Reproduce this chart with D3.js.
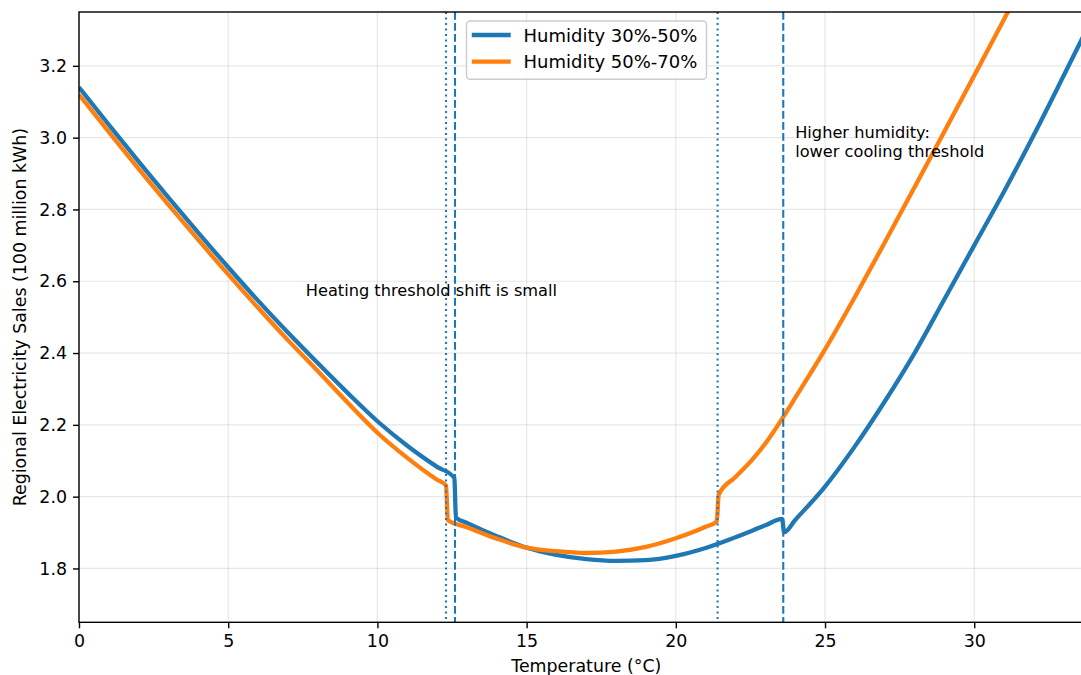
<!DOCTYPE html>
<html>
<head>
<meta charset="utf-8">
<script src="https://cdn.jsdelivr.net/npm/d3@7"></script>
<style>
    body { margin: 0; background: #ffffff; }
    svg { display: block; font-family: "DejaVu Sans", sans-serif; }
</style>
</head>
<body>
<div id="chart"></div>
<script>
// Humidity 30%-50%
let lowTemps = [0, 1, 2, 3, 4, 5, 6, 7, 8, 9, 10, 11, 12, 12.58, 12.63, 13, 14, 15, 16, 17, 18, 19, 20, 21, 22, 23, 23.56, 23.63, 24, 25, 26, 27, 28, 29, 30, 31, 32, 33, 34];
let lowSales = [3.14, 3.036, 2.933, 2.833, 2.735, 2.639, 2.546, 2.457, 2.372, 2.289, 2.21, 2.142, 2.083, 2.052, 1.942, 1.927, 1.89, 1.858, 1.838, 1.826, 1.821, 1.823, 1.835, 1.857, 1.887, 1.92, 1.938, 1.901, 1.935, 2.028, 2.14, 2.265, 2.40, 2.55, 2.70, 2.85, 3.008, 3.173, 3.34];

// Humidity 50%-70%
let highTemps = [0, 1, 2, 3, 4, 5, 6, 7, 8, 9, 10, 11, 12, 12.3, 12.36, 13, 14, 15, 16, 17, 18, 19, 20, 21, 21.37, 21.44, 22, 22.54, 23, 23.6, 24, 25, 26, 27, 28, 29, 30, 31, 32];
let highSales = [3.12, 3.016, 2.913, 2.813, 2.715, 2.619, 2.526, 2.436, 2.35, 2.262, 2.178, 2.108, 2.047, 2.031, 1.934, 1.915, 1.883, 1.858, 1.848, 1.843, 1.847, 1.86, 1.884, 1.916, 1.931, 2.006, 2.055, 2.101, 2.148, 2.222, 2.275, 2.41, 2.556, 2.708, 2.862, 3.017, 3.173, 3.33, 3.49];

let seriesNames = ["Humidity 30%-50%", "Humidity 50%-70%"];
let seriesColors = ["#1f77b4", "#ff7f0e"];

// threshold lines: dashed = low humidity, dotted = high humidity
let thresholdTemps = [12.6, 23.6, 12.3, 21.4];
let thresholdStyles = ["dashed", "dashed", "dotted", "dotted"];

let xTicks = [0, 5, 10, 15, 20, 25, 30];
let yTicks = [1.8, 2.0, 2.2, 2.4, 2.6, 2.8, 3.0, 3.2];

let noteTexts = [["Heating threshold shift is small"], ["Higher humidity:", "lower cooling threshold"]];
let noteTemps = [7.6, 24.0];
let noteSales = [2.56, 3.0];

let fullWidth = 1081;
let fullHeight = 675;
let margin = {top: 12, left: 79};
let width = 1014.6;
let height = 610.3;

let svg = d3.select("#chart")
    .append("svg")
    .attr("width", fullWidth)
    .attr("height", fullHeight);

let g = svg.append("g")
    .attr("transform", `translate(${margin.left},${margin.top})`);

let x = d3.scaleLinear()
    .domain([0, 34])
    .range([0, width]);

let y = d3.scaleLinear()
    .domain([1.65, 3.35])
    .range([height, 0]);

g.append("clipPath")
    .attr("id", "plotClip")
    .append("rect")
    .attr("width", width)
    .attr("height", height);

// Grid
g.append("g")
    .selectAll("line")
    .data(xTicks)
    .join("line")
    .attr("x1", d => x(d))
    .attr("x2", d => x(d))
    .attr("y1", 0)
    .attr("y2", height)
    .attr("stroke", "#b0b0b0")
    .attr("stroke-opacity", 0.3)
    .attr("stroke-width", 1.2);

g.append("g")
    .selectAll("line")
    .data(yTicks)
    .join("line")
    .attr("x1", 0)
    .attr("x2", width)
    .attr("y1", d => y(d))
    .attr("y2", d => y(d))
    .attr("stroke", "#b0b0b0")
    .attr("stroke-opacity", 0.3)
    .attr("stroke-width", 1.2);

let line = d3.line()
    .curve(d3.curveMonotoneX)
    .x(d => x(d[0]))
    .y(d => y(d[1]));

let series = [
    d3.zip(lowTemps, lowSales),
    d3.zip(highTemps, highSales)
];

let plot = g.append("g").attr("clip-path", "url(#plotClip)");

plot.selectAll(".curve")
    .data(series)
    .join("path")
    .attr("class", "curve")
    .attr("d", line)
    .attr("fill", "none")
    .attr("stroke", (d, i) => seriesColors[i])
    .attr("stroke-width", 4.3)
    .attr("stroke-linejoin", "round");

plot.selectAll(".threshold")
    .data(thresholdTemps)
    .join("line")
    .attr("class", "threshold")
    .attr("x1", d => x(d))
    .attr("x2", d => x(d))
    .attr("y1", 0)
    .attr("y2", height)
    .attr("stroke", seriesColors[0])
    .attr("stroke-width", 2.1)
    .attr("stroke-dasharray", (d, i) => thresholdStyles[i] === "dashed" ? "7.7,3.3" : "2.1,3.4");

// Notes
g.selectAll(".note")
    .data(noteTexts)
    .join("text")
    .attr("class", "note")
    .attr("x", (d, i) => x(noteTemps[i]))
    .attr("y", (d, i) => y(noteSales[i]))
    .attr("font-size", 16.2)
    .attr("fill", "#000")
    .selectAll("tspan")
    .data(d => d)
    .join("tspan")
    .attr("x", function () { return d3.select(this.parentNode).attr("x"); })
    .attr("dy", (d, i) => i === 0 ? 0 : 19.2)
    .text(d => d);

// Axes
let xAxis = g.append("g")
    .attr("transform", `translate(0,${height})`)
    .call(d3.axisBottom(x).tickValues(xTicks).tickSize(6).tickPadding(6).tickFormat(d3.format("d")));

let yAxis = g.append("g")
    .call(d3.axisLeft(y).tickValues(yTicks).tickSize(6).tickPadding(6).tickFormat(d3.format(".1f")));

[xAxis, yAxis].forEach(a => {
    a.select(".domain").remove();
    a.selectAll(".tick line").attr("stroke", "#000").attr("stroke-width", 1.4);
    a.selectAll(".tick text")
        .attr("font-size", 17.4)
        .attr("font-family", "DejaVu Sans")
        .attr("fill", "#000");
});

// Spines (left, bottom, top)
g.append("rect")
    .attr("width", width)
    .attr("height", height)
    .attr("fill", "none")
    .attr("stroke", "#000")
    .attr("stroke-width", 1.4);

// Axis labels
svg.append("text")
    .attr("x", margin.left + width / 2)
    .attr("y", 671.5)
    .attr("text-anchor", "middle")
    .attr("font-size", 17.4)
    .text("Temperature (°C)");

svg.append("text")
    .attr("transform", `translate(26,${margin.top + height / 2}) rotate(-90)`)
    .attr("text-anchor", "middle")
    .attr("font-size", 17.4)
    .text("Regional Electricity Sales (100 million kWh)");

// Legend
let legend = svg.append("g")
    .attr("transform", "translate(466.5,21)");

legend.append("rect")
    .attr("width", 240)
    .attr("height", 58.3)
    .attr("rx", 3.5)
    .attr("fill", "#ffffff")
    .attr("fill-opacity", 0.8)
    .attr("stroke", "#cccccc")
    .attr("stroke-width", 1.4);

let items = legend.selectAll(".item")
    .data(seriesNames)
    .join("g")
    .attr("class", "item")
    .attr("transform", (d, i) => `translate(0,${14 + i * 26.7})`);

items.append("line")
    .attr("x1", 7.4)
    .attr("x2", 42.1)
    .attr("stroke", (d, i) => seriesColors[i])
    .attr("stroke-width", 4.3)
    .attr("stroke-linecap", "square");

items.append("text")
    .attr("x", 57)
    .attr("y", 6.5)
    .attr("font-size", 18)
    .text(d => d);
</script>
</body>
</html>
